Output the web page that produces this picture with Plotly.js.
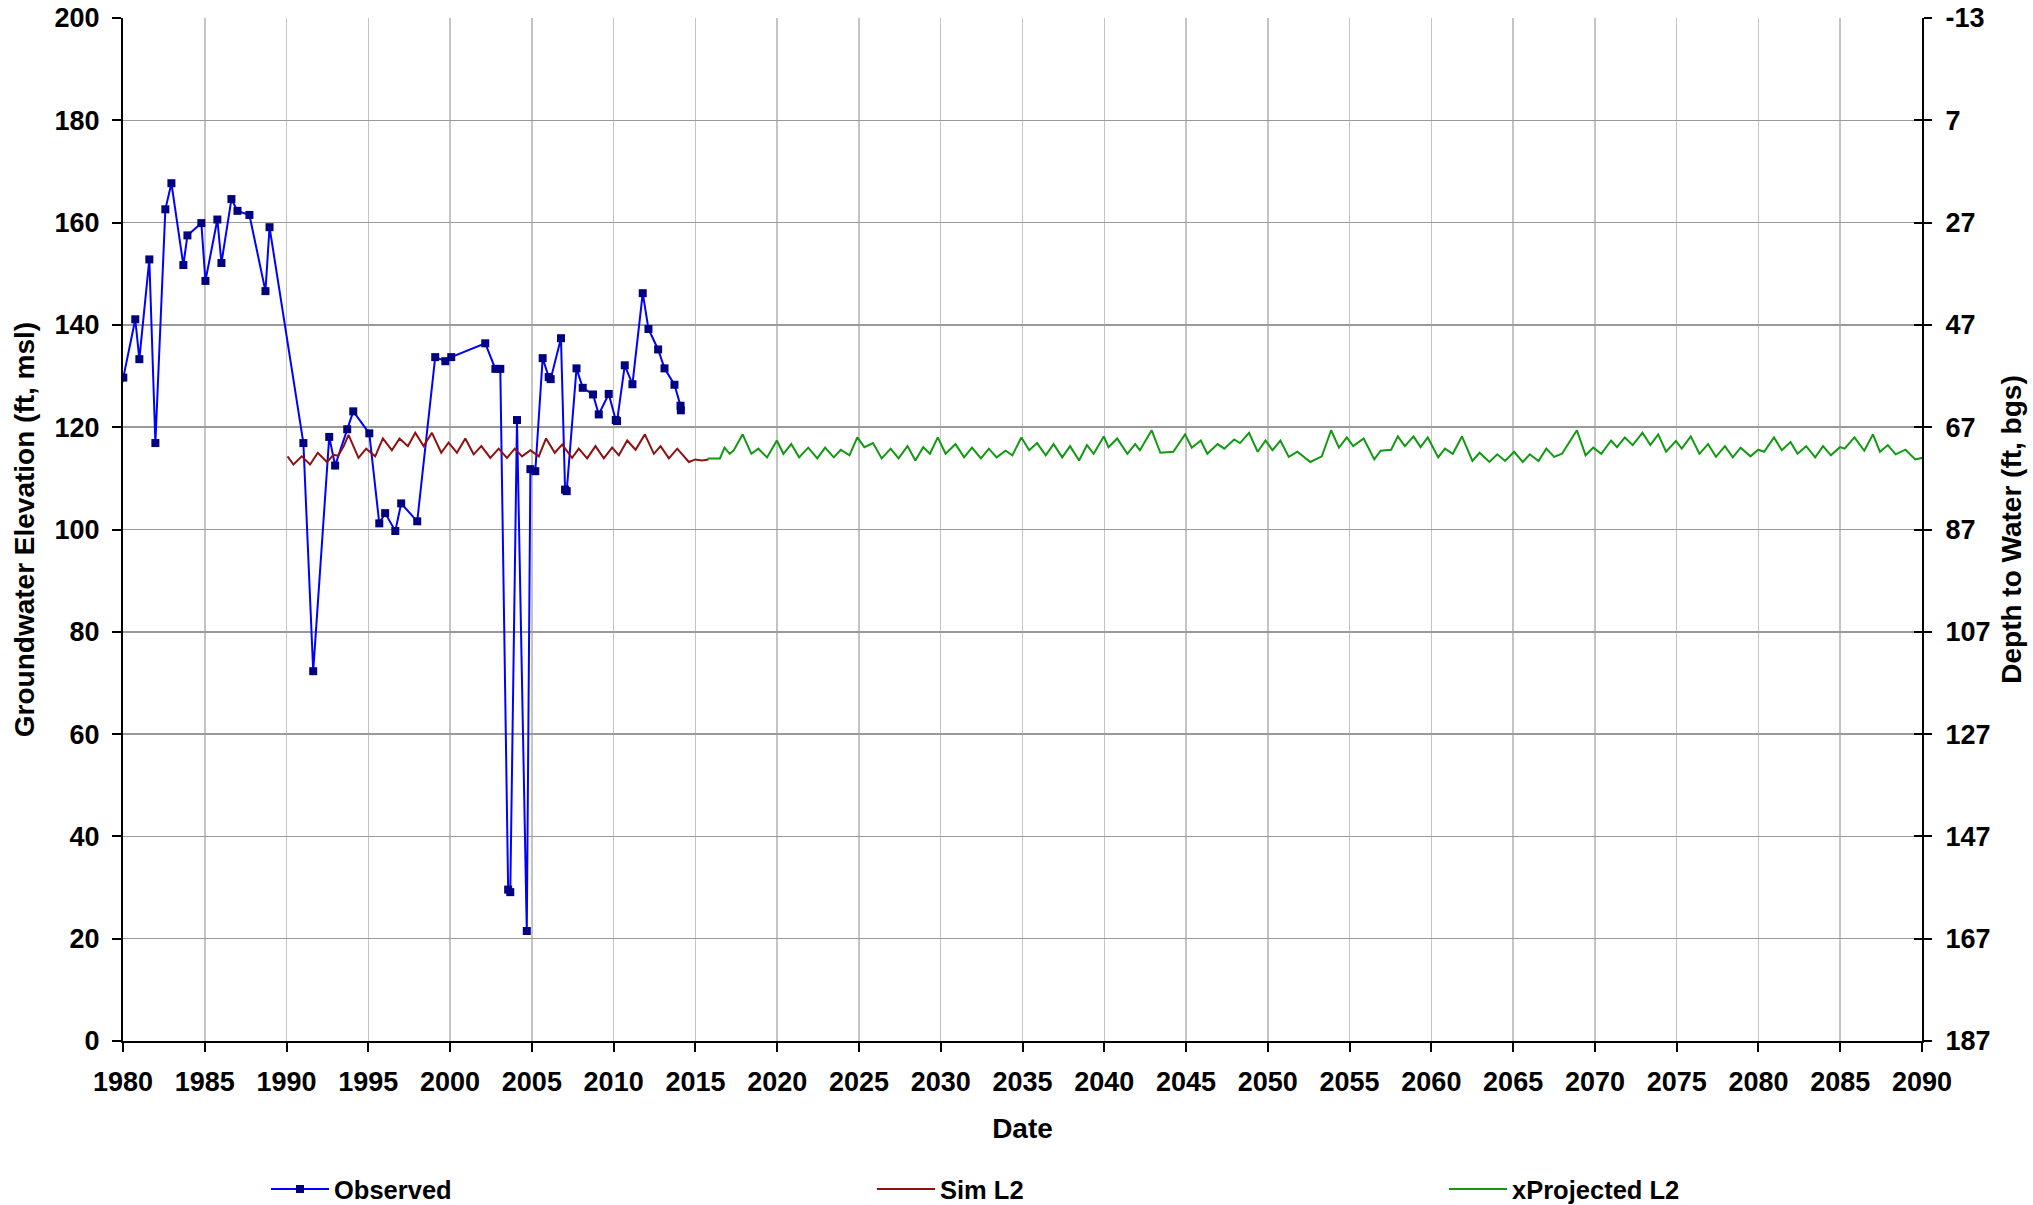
<!DOCTYPE html>
<html>
<head>
<meta charset="utf-8">
<script src="https://cdn.plot.ly/plotly-3.0.1.min.js"></script>
<style>
  html, body { margin: 0; padding: 0; background: #ffffff; }
  #chart { width: 2033px; height: 1205px; }
</style>
</head>
<body>
<div id="chart"></div>
<script>
// ---------------- DATA ----------------
const obsYear = [1979.5, 1980.02, 1980.75, 1981.0, 1981.61, 1981.98, 1982.59, 1982.96, 1983.69, 1983.94,
  1984.79, 1985.04, 1985.77, 1986.02, 1986.63, 1987.0, 1987.73, 1988.71, 1988.96, 1991.03,
  1991.63, 1992.61, 1992.97, 1993.71, 1994.08, 1995.06, 1995.67, 1996.03, 1996.65, 1997.01,
  1997.99, 1999.09, 1999.71, 2000.07, 2002.15, 2002.77, 2003.07, 2003.55, 2003.68, 2004.09,
  2004.69, 2004.91, 2005.21, 2005.66, 2006.03, 2006.15, 2006.78, 2007.03, 2007.13, 2007.73,
  2008.11, 2008.74, 2009.09, 2009.70, 2010.13, 2010.21, 2010.68, 2011.15, 2011.78, 2012.13,
  2012.72, 2013.11, 2013.72, 2014.09, 2014.11];
const obsElev = [122.9, 129.7, 141.1, 133.3, 152.8, 116.9, 162.6, 167.7, 151.7, 157.5,
  159.9, 148.6, 160.6, 152.1, 164.6, 162.3, 161.5, 146.6, 159.1, 116.9,
  72.3, 118.1, 112.5, 119.6, 123.1, 118.8, 101.2, 103.2, 99.7, 105.1,
  101.6, 133.7, 132.9, 133.7, 136.4, 131.4, 131.4, 29.6, 29.1, 121.4,
  21.5, 111.8, 111.4, 133.5, 129.8, 129.4, 137.4, 107.8, 107.5, 131.5,
  127.7, 126.4, 122.5, 126.5, 121.4, 121.2, 132.1, 128.4, 146.2, 139.2,
  135.2, 131.5, 128.3, 124.2, 123.3];

const simYear = [1990.06, 1990.42, 1990.93, 1991.44, 1991.91, 1992.47, 1992.87, 1993.15, 1993.5, 1993.79,
  1994.40, 1994.87, 1995.42, 1995.89, 1996.44, 1996.91, 1997.42, 1997.87, 1998.38, 1998.89,
  1999.46, 1999.91, 2000.42, 2000.93, 2001.44, 2001.91, 2002.46, 2002.97, 2003.48, 2003.95,
  2004.40, 2004.91, 2005.42, 2005.87, 2006.40, 2006.85, 2007.46, 2007.87, 2008.38, 2008.89,
  2009.40, 2009.91, 2010.32, 2010.83, 2011.34, 2011.91, 2012.46, 2012.87, 2013.38, 2013.89,
  2014.60, 2015.0, 2015.4, 2015.8];
const simElev = [114.3, 112.7, 114.3, 112.7, 115.0, 113.2, 114.6, 114.4, 116.3, 118.5,
  114.0, 115.8, 114.3, 117.8, 115.5, 117.8, 116.3, 118.9, 116.3, 118.9,
  115.0, 117.0, 115.0, 117.8, 114.7, 116.3, 114.0, 115.8, 114.0, 115.8,
  114.3, 115.5, 114.3, 117.8, 115.0, 116.6, 114.0, 115.8, 113.9, 116.3,
  113.9, 116.0, 114.5, 117.4, 115.6, 118.6, 114.8, 116.3, 113.9, 115.8,
  113.2, 113.7, 113.5, 113.7];

const projYear = [2015.75, 2016.5, 2016.78, 2017.1, 2017.35, 2017.89, 2018.42, 2018.85, 2019.38, 2019.98,
  2020.38, 2020.86, 2021.34, 2021.9, 2022.45, 2022.93, 2023.46, 2023.89, 2024.42, 2024.9,
  2025.33, 2025.86, 2026.39, 2026.94, 2027.42, 2027.97, 2028.45, 2028.93, 2029.34, 2029.82,
  2030.30, 2030.9, 2031.43, 2031.91, 2032.46, 2032.94, 2033.42, 2033.97, 2034.38, 2034.93,
  2035.41, 2035.89, 2036.42, 2036.9, 2037.43, 2037.91, 2038.46, 2038.94, 2039.35, 2039.97,
  2040.26, 2040.79, 2041.41, 2041.89, 2042.18, 2042.9, 2043.43, 2044.22, 2044.94, 2045.35,
  2045.9, 2046.3, 2046.93, 2047.34, 2047.94, 2048.3, 2048.85, 2049.38, 2049.86, 2050.29,
  2050.77, 2051.28, 2051.81, 2052.6, 2053.3, 2053.87, 2054.35, 2054.83, 2055.22, 2055.86,
  2056.51, 2056.9, 2057.54, 2057.95, 2058.38, 2058.91, 2059.34, 2059.78, 2060.42, 2060.83,
  2061.31, 2061.87, 2062.51, 2062.95, 2063.55, 2064.03, 2064.51, 2065.06, 2065.59, 2066.02,
  2066.55, 2067.03, 2067.51, 2067.99, 2068.9, 2069.43, 2069.9, 2070.39, 2070.99, 2071.35,
  2071.83, 2072.31, 2072.91, 2073.39, 2073.87, 2074.35, 2074.95, 2075.31, 2075.86, 2076.39,
  2076.92, 2077.4, 2077.95, 2078.43, 2078.91, 2079.51, 2079.99, 2080.35, 2080.95, 2081.43,
  2081.96, 2082.39, 2082.92, 2083.47, 2083.95, 2084.43, 2084.98, 2085.27, 2085.87, 2086.47,
  2087.0, 2087.43, 2087.91, 2088.39, 2088.99, 2089.59, 2090.14];
const projElev = [113.9, 113.9, 116.0, 114.8, 115.5, 118.6, 114.8, 115.8, 114.1, 117.4,
  114.8, 116.7, 114.1, 116.0, 113.9, 116.0, 114.1, 115.6, 114.5, 118.0,
  116.1, 116.9, 113.9, 115.8, 113.9, 116.3, 113.5, 116.1, 114.8, 118.0,
  114.8, 116.7, 114.1, 116.0, 113.9, 115.8, 114.1, 115.4, 114.5, 118.0,
  115.5, 116.9, 114.5, 116.7, 114.1, 116.3, 113.5, 116.5, 114.8, 118.2,
  116.1, 117.8, 114.8, 116.7, 115.5, 119.4, 115.0, 115.2, 118.6, 116.0,
  117.4, 114.8, 116.7, 115.8, 117.6, 116.9, 118.9, 115.2, 117.4, 115.5,
  117.4, 114.2, 115.2, 113.2, 114.3, 119.4, 116.0, 118.0, 116.3, 117.8,
  113.7, 115.4, 115.6, 118.2, 116.3, 118.2, 116.1, 118.0, 114.1, 115.8,
  114.8, 118.2, 113.4, 115.0, 113.2, 114.7, 113.4, 115.2, 113.2, 114.7,
  113.4, 115.8, 114.2, 114.8, 119.4, 114.5, 116.0, 114.8, 117.4, 116.1,
  118.0, 116.5, 118.9, 116.5, 118.6, 115.2, 117.3, 115.8, 118.2, 114.8,
  116.7, 114.2, 116.3, 114.1, 116.0, 114.3, 115.6, 115.2, 118.0, 115.5,
  117.1, 114.8, 116.3, 114.1, 116.3, 114.5, 116.1, 115.8, 118.0, 115.4,
  118.6, 115.2, 116.5, 114.7, 115.6, 113.7, 114.1];

const seriesNames = ['Observed', 'Sim L2', 'xProjected L2'];
const depthTicks = [-13, 7, 27, 47, 67, 87, 107, 127, 147, 167, 187];
const depthTickLabels = ['-13', '7', '27', '47', '67', '87', '107', '127', '147', '167', '187'];
const xTitle = 'Date';
const yTitle = 'Groundwater Elevation (ft, msl)';
const y2Title = 'Depth to Water (ft, bgs)';

// ---------------- CHART ----------------
const FAMILY = 'Liberation Sans, Arial, sans-serif';
const TICKFONT = {family: FAMILY, size: 27, color: '#000000', weight: 'bold'};
const TITLEFONT = {family: FAMILY, size: 28, color: '#000000', weight: 'bold'};
const LEGFONT = {family: FAMILY, size: 25.5, color: '#000000', weight: 'bold'};

const traces = [
  {x: obsYear, y: obsElev, name: seriesNames[0], type: 'scatter', mode: 'lines+markers',
   line: {color: '#0000ff', width: 2},
   marker: {symbol: 'square', size: 8, color: '#000080', line: {width: 0}},
   legend: 'legend'},
  {x: simYear, y: simElev, name: seriesNames[1], type: 'scatter', mode: 'lines',
   line: {color: '#8f1010', width: 2}, legend: 'legend2'},
  {x: projYear, y: projElev, name: seriesNames[2], type: 'scatter', mode: 'lines',
   line: {color: '#119911', width: 2}, legend: 'legend3'},
  // empty traces only so that the right-hand (depth) axis is drawn
  {x: [], y: [], yaxis: 'y2', type: 'scatter', mode: 'lines', showlegend: false, hoverinfo: 'skip'},
  {x: [], y: [], yaxis: 'y3', type: 'scatter', mode: 'lines', showlegend: false, hoverinfo: 'skip'}
];

function legendAt(px) {
  return {orientation: 'h', x: (px - 123) / 1799, xanchor: 'left', y: -0.145, yanchor: 'middle',
          font: LEGFONT, itemwidth: 58, bgcolor: 'rgba(0,0,0,0)', borderwidth: 0};
}

const layout = {
  width: 2033, height: 1205,
  margin: {l: 123, r: 111, t: 18, b: 164, pad: 0, autoexpand: false},
  paper_bgcolor: '#ffffff', plot_bgcolor: '#ffffff',
  font: TICKFONT,
  showlegend: true,
  xaxis: {
    range: [1980, 2090], autorange: false, tickmode: 'linear', tick0: 1980, dtick: 5,
    showgrid: true, gridcolor: '#c4c4c4', gridwidth: 1.5, zeroline: false,
    showline: true, linecolor: '#000000', linewidth: 2,
    ticks: 'outside', ticklen: 9, tickwidth: 2, tickcolor: '#000000',
    tickfont: TICKFONT, ticklabelstandoff: 7, automargin: false,
    title: {text: xTitle, font: TITLEFONT, standoff: 22}
  },
  yaxis: {
    range: [0, 200], autorange: false, tickmode: 'linear', tick0: 0, dtick: 20,
    showgrid: true, gridcolor: '#9a9a9a', gridwidth: 1.5, zeroline: false,
    showline: true, linecolor: '#000000', linewidth: 2,
    ticks: 'outside', ticklen: 9, tickwidth: 2, tickcolor: '#000000',
    tickfont: TICKFONT, ticklabelstandoff: 7, automargin: false,
    title: {text: yTitle, font: TITLEFONT, standoff: 12}
  },
  yaxis2: {
    overlaying: 'y', side: 'right', anchor: 'x',
    range: [187, -13], autorange: false, tickmode: 'array', tickvals: depthTicks, ticktext: depthTickLabels,
    showgrid: false, zeroline: false,
    showline: true, linecolor: '#000000', linewidth: 2,
    ticks: 'outside', ticklen: 8, tickwidth: 2, tickcolor: '#000000',
    tickfont: TICKFONT, ticklabelstandoff: 8, automargin: false,
    title: {text: y2Title, font: TITLEFONT, standoff: 12}
  },
  yaxis3: {
    overlaying: 'y', side: 'right', anchor: 'x',
    range: [187, -13], autorange: false, tickmode: 'array', tickvals: depthTicks,
    showgrid: false, zeroline: false, showline: false, showticklabels: false,
    ticks: 'inside', ticklen: 8, tickwidth: 2, tickcolor: '#000000', automargin: false
  },
  legend: legendAt(266),
  legend2: legendAt(872),
  legend3: legendAt(1444)
};

Plotly.newPlot('chart', traces, layout, {displayModeBar: false, staticPlot: true});
</script>
</body>
</html>
